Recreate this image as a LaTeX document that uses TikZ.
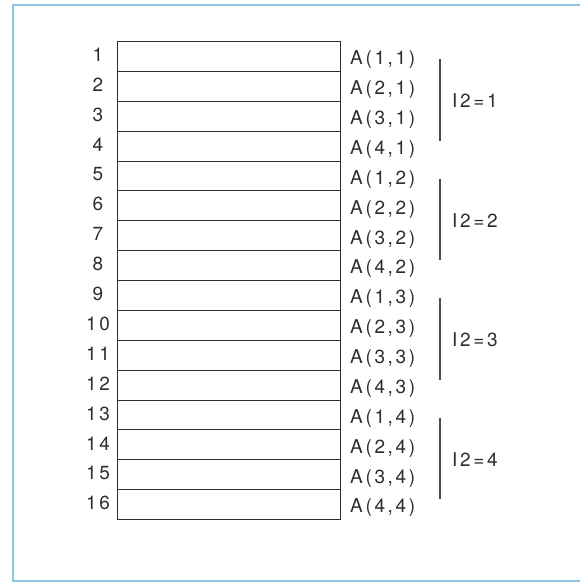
\documentclass[tikz,border=0pt]{standalone}
\usepackage{fontspec}
\setmainfont{TeX Gyre Heros}[LetterSpace=14]
\definecolor{kader}{HTML}{8CC6E6}
\definecolor{inkt}{HTML}{2E2E2E}
\tikzset{
    cel/.style={draw=inkt, line width=1.1pt, minimum width=223pt, minimum height=29.875pt, inner sep=0pt, anchor=north west},
    nummer/.style={text=inkt, font=\fontsize{19}{21}\selectfont, inner sep=0pt},
    element/.style={text=inkt, font=\fontsize{19}{21}\selectfont, inner sep=0pt, anchor=west},
    streep/.style={draw=inkt!85, line width=1.4pt}
}
\begin{document}
\begin{tikzpicture}[x=1pt, y=-1pt]
    \useasboundingbox (0,0) rectangle (579,584);

    % Lichtblauw kader (rechts open)
    \draw[kader, line width=2pt] (590,5) -- (13,5) -- (13,581) -- (590,581);

    % Geheugencellen met nummer en element
    \foreach \j in {1,...,4} {
        \foreach \i in {1,...,4} {
            \pgfmathtruncatemacro\n{(\j-1)*4 + \i}
            \node[cel] (c\n) at (117, {41 + (\n-1)*29.875}) {};
            \node[nummer] (n\n) at (98, {41 + (\n-0.5)*29.875 - 1}) {\n};
            \node[element] (a\n) at (350, {41 + (\n-0.5)*29.875 + 4}) {A(\i,\j)};
        }
    }

    % Streep en bijschrift per kolom
    \foreach \j in {1,...,4} {
        \coordinate (top\j) at (440, {41 + (\j-1)*119.5 + 18});
        \coordinate (bot\j) at (440, {41 + \j*119.5 - 20});
        \draw[streep] (top\j) -- (bot\j);
        \node[element] (g\j) at (452, {41 + (\j-0.5)*119.5}) {I2=\j};
    }
\end{tikzpicture}
\end{document}
